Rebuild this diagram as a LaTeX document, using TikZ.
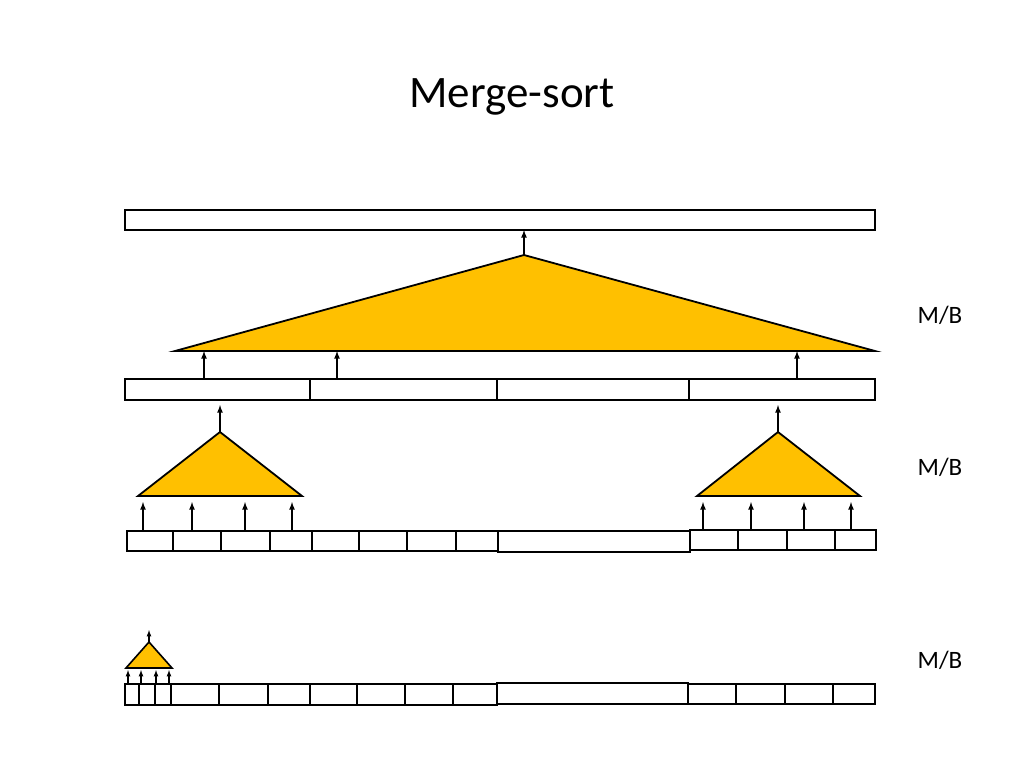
\documentclass[tikz,border=0pt]{standalone}
\usepackage{fontspec}
\setmainfont{Carlito}
\begin{document}
\begin{tikzpicture}[x=1pt,y=-1pt,
  cell/.style={draw,line width=2.2pt,fill=white},
  tri/.style={draw,line width=1.8pt,fill=orange!50!yellow!90!red,fill={rgb,255:red,255;green,192;blue,0},line join=miter},
  up/.style={-latex,line width=1.6pt},
  lbl/.style={font=\fontsize{25}{30}\selectfont}]
\useasboundingbox (0,0) rectangle (1024,768);
\node[font=\fontsize{45}{54}\selectfont] (title) at (512,97) {Merge-sort};
% top row
\draw[cell] (125,210) rectangle (875,230);
\coordinate (top) at (524,230);
% big triangle
\draw[tri] (175,351) -- (524,255) -- (875,351) -- cycle;
\coordinate (apex) at (524,255);
\draw[up] (apex) -- (top);
% row 2
\foreach \a/\b in {125/310,310/497,497/689,689/875}{\draw[cell] (\a,379) rectangle (\b,400);}
\foreach \x in {204,337,797}{\draw[up] (\x,379) -- (\x,351);}
% small triangles
\draw[tri] (138,496) -- (220,432) -- (302,496) -- cycle;
\draw[tri] (697,496) -- (778,432) -- (860,496) -- cycle;
\draw[up] (220,432) -- (220,405);
\draw[up] (778,432) -- (778,405);
\foreach \x in {143,192,245,292,703,751,804,851}{\draw[up] (\x,530) -- (\x,502);}
% row 3
\draw[cell] (127,531) rectangle (312,551);
\draw[cell] (312,531) rectangle (498,551);
\draw[cell] (498,531) rectangle (690,552);
\draw[cell] (690,530) rectangle (876,550);
\foreach \x in {173,221,270,359,407,456,738,787,835}{\draw[line width=2pt] (\x,531) -- (\x,550);}
% tiny triangle
\draw[tri,line width=1.6pt] (126,668) -- (149,642) -- (172,668) -- cycle;
\draw[-latex,line width=1.2pt] (149,642) -- (149,630);
\foreach \x in {128,141,156,169}{\draw[-latex,line width=1.2pt] (\x,683) -- (\x,670);}
% row 4
\draw[cell] (125,684) rectangle (310,705);
\draw[cell] (310,684) rectangle (497,705);
\draw[cell] (497,683) rectangle (688,704);
\draw[cell] (688,684) rectangle (875,704);
\foreach \x in {139,155,171,219,268,357,405,453,736,785,833}{\draw[line width=2pt] (\x,684) -- (\x,704);}
% labels
\node[lbl] (l1) at (940,315) {M/B};
\node[lbl] (l2) at (940,467) {M/B};
\node[lbl] (l3) at (940,660) {M/B};
\end{tikzpicture}
\end{document}
